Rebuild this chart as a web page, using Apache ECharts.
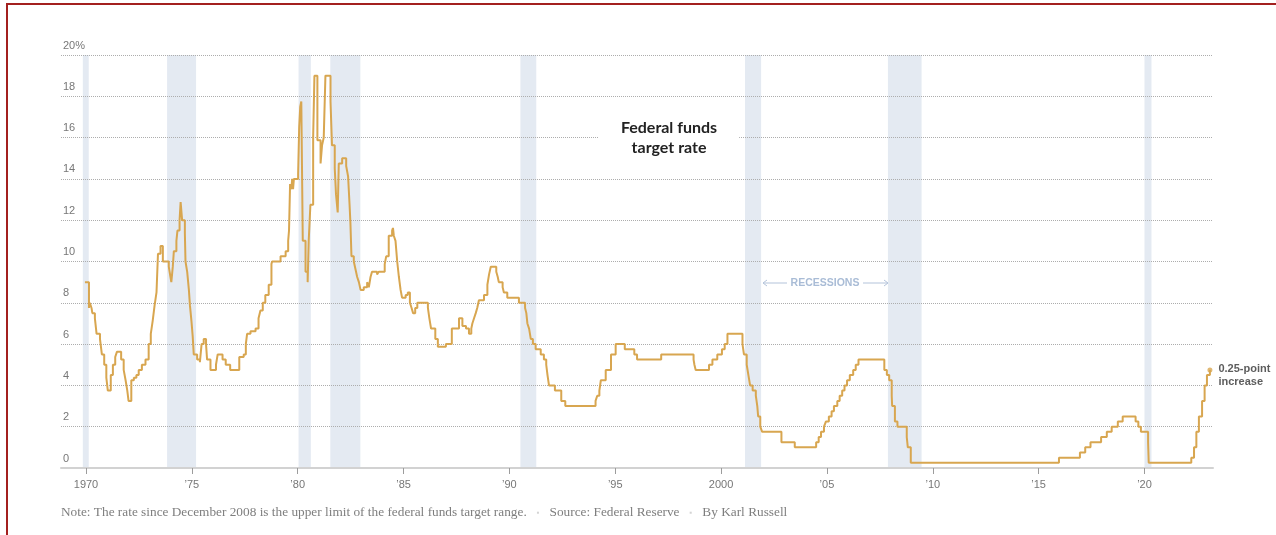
<!DOCTYPE html>
<html>
<head>
<meta charset="utf-8">
<script src="https://cdn.jsdelivr.net/npm/echarts@6/dist/echarts.min.js"></script>
<style>
  html, body { margin: 0; padding: 0; background: #fff; width: 1276px; height: 535px; overflow: hidden; }
  #chart { position: absolute; left: 0; top: 0; width: 1276px; height: 535px; }
  #frame { position: absolute; left: 6px; top: 3px; width: 1300px; height: 560px; border: 2px solid #a3201f; box-sizing: border-box; pointer-events: none; }
</style>
</head>
<body>
<div id="chart"></div>
<div id="frame"></div>
<script>
// Federal funds target rate: each entry is the date (decimal year) of a change and the new rate (%)
const rateDates = [
  1969.95, 1970.14, 1970.18, 1970.26, 1970.30, 1970.42, 1970.50, 1970.66, 1970.75, 1970.86,
  1970.96, 1971.03, 1971.17, 1971.27, 1971.38, 1971.46, 1971.66, 1971.78, 1971.87, 1971.95,
  1972.01, 1972.14, 1972.26, 1972.38, 1972.49, 1972.64, 1972.81, 1972.96, 1973.06, 1973.15,
  1973.24, 1973.33, 1973.40, 1973.52, 1973.63, 1973.91, 1973.99, 1974.03, 1974.10, 1974.15,
  1974.27, 1974.32, 1974.42, 1974.47, 1974.54, 1974.67, 1974.70, 1974.78, 1974.86, 1974.91,
  1974.98, 1975.04, 1975.09, 1975.25, 1975.38, 1975.46, 1975.56, 1975.67, 1975.72, 1975.88,
  1976.14, 1976.22, 1976.45, 1976.60, 1976.81, 1977.24, 1977.45, 1977.55, 1977.61, 1977.77,
  1978.01, 1978.15, 1978.24, 1978.35, 1978.47, 1978.63, 1978.76, 1978.79, 1979.19, 1979.43,
  1979.55, 1979.59, 1979.64, 1979.70, 1979.74, 1979.78, 1979.82, 1980.02, 1980.07, 1980.12,
  1980.17, 1980.24, 1980.37, 1980.47, 1980.52, 1980.60, 1980.73, 1980.79, 1980.93, 1981.08,
  1981.15, 1981.23, 1981.31, 1981.55, 1981.62, 1981.75, 1981.81, 1981.89, 1981.94, 1982.10,
  1982.29, 1982.38, 1982.45, 1982.49, 1982.54, 1982.65, 1982.73, 1982.81, 1982.89, 1982.97,
  1983.12, 1983.28, 1983.36, 1983.44, 1983.51, 1983.75, 1983.83, 1984.11, 1984.18, 1984.30,
  1984.46, 1984.50, 1984.54, 1984.62, 1984.70, 1984.78, 1984.86, 1984.93, 1985.10, 1985.20,
  1985.30, 1985.38, 1985.45, 1985.55, 1985.65, 1986.15, 1986.22, 1986.30, 1986.50, 1986.62,
  1987.00, 1987.28, 1987.62, 1987.78, 1987.95, 1988.09, 1988.20, 1988.25, 1988.33, 1988.41,
  1988.48, 1988.56, 1988.80, 1988.96, 1989.04, 1989.12, 1989.38, 1989.45, 1989.50, 1989.68,
  1989.74, 1989.90, 1990.45, 1990.74, 1990.80, 1990.85, 1990.93, 1991.01, 1991.11, 1991.24,
  1991.48, 1991.63, 1991.74, 1991.80, 1991.87, 1992.15, 1992.45, 1992.64, 1994.07, 1994.15,
  1994.25, 1994.32, 1994.55, 1994.80, 1995.02, 1995.45, 1995.90, 1996.03, 1997.17, 1998.70,
  1998.74, 1998.80, 1999.43, 1999.59, 1999.82, 2000.04, 2000.17, 2000.30, 2001.01, 2001.08,
  2001.21, 2001.29, 2001.37, 2001.49, 2001.64, 2001.71, 2001.75, 2001.85, 2001.94, 2002.85,
  2003.48, 2004.49, 2004.61, 2004.72, 2004.86, 2004.95, 2005.09, 2005.22, 2005.33, 2005.49,
  2005.60, 2005.72, 2005.83, 2005.95, 2006.08, 2006.24, 2006.36, 2006.49, 2007.71, 2007.83,
  2007.94, 2008.06, 2008.08, 2008.21, 2008.33, 2008.77, 2008.82, 2008.96, 2015.96, 2016.95,
  2017.20, 2017.45, 2017.95, 2018.22, 2018.45, 2018.74, 2018.97, 2019.58, 2019.71, 2019.83,
  2020.17, 2020.20, 2022.21, 2022.34, 2022.45, 2022.57, 2022.72, 2022.84, 2022.95, 2023.09
];
const rateValues = [
  9.0, 7.75, 8.0, 7.75, 7.5, 7.25, 6.5, 6.25, 5.5, 5.0,
  4.375, 3.75, 4.5, 5.0, 5.375, 5.625, 5.25, 4.75, 4.25, 3.75,
  3.25, 4.25, 4.375, 4.5, 4.75, 5.0, 5.25, 6.0, 6.5, 7.125,
  7.875, 8.5, 10.375, 10.75, 10.0, 9.75, 9.25, 9.0, 9.75, 10.5,
  11.0, 11.5, 12.0, 12.875, 12.0, 11.375, 10.0, 9.5, 8.625, 7.875,
  7.125, 6.375, 5.5, 5.25, 5.125, 6.0, 6.25, 6.0, 5.25, 4.75,
  5.0, 5.5, 5.25, 5.0, 4.75, 5.375, 5.5, 6.0, 6.5, 6.625,
  6.75, 7.25, 7.625, 8.0, 8.375, 8.875, 9.875, 10.0, 10.25, 10.5,
  11.0, 11.5, 13.75, 13.5, 14.0, 13.5, 14.0, 14.25, 16.5, 17.5,
  17.75, 11.0, 9.5, 9.0, 11.0, 12.75, 16.0, 19.0, 15.875, 14.75,
  15.625, 16.0, 19.0, 17.75, 15.625, 14.5, 13.25, 12.375, 14.75, 15.0,
  14.625, 14.125, 12.75, 11.875, 10.25, 10.0, 9.625, 9.25, 9.0, 8.625,
  8.75, 9.0, 8.75, 9.25, 9.5, 9.375, 9.5, 9.875, 10.25, 11.25,
  11.5, 11.625, 11.25, 11.0, 10.0, 9.25, 8.625, 8.25, 8.375, 8.5,
  8.0, 7.75, 7.5, 7.75, 8.0, 7.75, 7.25, 6.75, 6.25, 5.875,
  6.0, 6.75, 7.25, 6.875, 6.75, 6.5, 6.75, 7.0, 7.25, 7.5,
  7.75, 8.125, 8.375, 8.875, 9.375, 9.75, 9.5, 9.25, 9.0, 8.75,
  8.5, 8.25, 8.0, 7.75, 7.5, 7.0, 6.75, 6.25, 6.0, 5.75,
  5.5, 5.25, 5.0, 4.5, 4.0, 3.75, 3.25, 3.0, 3.25, 3.5,
  3.75, 4.25, 4.75, 5.5, 6.0, 5.75, 5.5, 5.25, 5.5, 5.25,
  5.0, 4.75, 5.0, 5.25, 5.5, 5.75, 6.0, 6.5, 6.0, 5.5,
  5.0, 4.5, 4.0, 3.75, 3.5, 3.0, 2.5, 2.0, 1.75, 1.25,
  1.0, 1.25, 1.5, 1.75, 2.0, 2.25, 2.5, 2.75, 3.0, 3.25,
  3.5, 3.75, 4.0, 4.25, 4.5, 4.75, 5.0, 5.25, 4.75, 4.5,
  4.25, 3.5, 3.0, 2.25, 2.0, 1.5, 1.0, 0.25, 0.5, 0.75,
  1.0, 1.25, 1.5, 1.75, 2.0, 2.25, 2.5, 2.25, 2.0, 1.75,
  1.25, 0.25, 0.5, 1.0, 1.75, 2.5, 3.25, 4.0, 4.5, 4.75
];

// Recessions (decimal years)
const recessionStarts = [1969.85, 1973.83, 1980.04, 1981.54, 1990.52, 2001.13, 2007.88, 2020.00];
const recessionEnds   = [1970.13, 1975.20, 1980.62, 1982.96, 1991.27, 2001.89, 2009.47, 2020.33];

// Axis ticks
const tickYears  = [1970, 1975, 1980, 1985, 1990, 1995, 2000, 2005, 2010, 2015, 2020];
const tickLabels = ['1970', '\u201975', '\u201980', '\u201985', '\u201990', '\u201995', '2000', '\u201905', '\u201910', '\u201915', '\u201920'];

const GOLD = '#d8a650';
const BAND = '#e4eaf2';
const SANS = '"Liberation Sans", Arial, sans-serif';

const chart = echarts.init(document.getElementById('chart'), null, { renderer: 'canvas' });

const lineData = rateDates.map((d, i) => [d, rateValues[i]]);
const lastPoint = lineData[lineData.length - 1];
const bandData = recessionStarts.map((s, i) => [s, recessionEnds[i], 0]);

const option = {
  animation: false,
  backgroundColor: 'transparent',
  grid: { left: 61, right: 63, top: 55, bottom: 67, containLabel: false },
  xAxis: {
    type: 'value',
    min: 1968.819,
    max: 2023.236,
    z: 2,
    axisLine: { show: true, onZero: true, lineStyle: { color: '#d2d2d2', width: 2 } },
    axisTick: { show: true, customValues: tickYears, length: 6, lineStyle: { color: '#9c9c9c', width: 1 } },
    axisLabel: {
      customValues: tickYears,
      formatter: v => tickLabels[tickYears.indexOf(Math.round(v))],
      margin: 11, color: '#777', fontFamily: SANS, fontSize: 11
    },
    splitLine: { show: false }
  },
  yAxis: {
    type: 'value',
    min: 0, max: 20, interval: 2,
    z: 2,
    axisLine: { show: false },
    axisTick: { show: false },
    axisLabel: {
      inside: true, margin: 2, verticalAlign: 'bottom', padding: [0, 0, 4, 0],
      formatter: v => (v === 20 ? '20%' : String(v)),
      color: '#777', fontFamily: SANS, fontSize: 11
    },
    splitLine: { show: true, showMinLine: false, lineStyle: { type: [1, 1], color: '#adadad', width: 1 } }
  },
  series: [
    {
      name: 'Recessions',
      type: 'custom',
      z: 1,
      silent: true,
      encode: { x: [0, 1], y: 2 },
      data: bandData,
      renderItem: (params, api) => {
        const p0 = api.coord([api.value(0), 20]);
        const p1 = api.coord([api.value(1), 0]);
        return {
          type: 'rect',
          shape: { x: p0[0], y: p0[1], width: p1[0] - p0[0], height: p1[1] - p0[1] },
          style: { fill: BAND }
        };
      }
    },
    {
      name: 'Federal funds target rate',
      type: 'line',
      step: 'end',
      z: 3,
      data: lineData,
      symbol: 'none',
      lineStyle: { color: GOLD, width: 2 }
    },
    {
      name: 'Latest',
      type: 'scatter',
      z: 4,
      data: [lastPoint],
      symbol: 'circle',
      symbolSize: 5,
      itemStyle: { color: GOLD },
      label: {
        show: true, position: 'right', distance: 6, offset: [0, 6],
        formatter: '0.25-point\nincrease',
        color: '#333', fontFamily: SANS, fontWeight: 'bold', fontSize: 11, lineHeight: 13, align: 'left'
      }
    }
  ],
  graphic: [
    {
      type: 'text', z: 10, silent: true,
      x: 669, y: 138,
      style: {
        text: 'Federal funds\ntarget rate',
        align: 'center', verticalAlign: 'middle',
        font: 'bold 16px Lato, "Liberation Sans", sans-serif',
        lineHeight: 20, fill: '#222',
        backgroundColor: '#fff', padding: [4, 22]
      }
    },
    {
      type: 'text', z: 10, silent: true,
      x: 825, y: 283,
      style: {
        text: 'RECESSIONS', align: 'center', verticalAlign: 'middle',
        font: 'bold 10.5px "Liberation Sans", Arial, sans-serif', fill: '#a9bcd6'
      }
    },
    { type: 'polyline', z: 10, silent: true, shape: { points: [[767, 280], [763, 283], [767, 286]] }, style: { stroke: '#b3c3da', lineWidth: 1, fill: null } },
    { type: 'line', z: 10, silent: true, shape: { x1: 763, y1: 283, x2: 787, y2: 283 }, style: { stroke: '#b3c3da', lineWidth: 1 } },
    { type: 'line', z: 10, silent: true, shape: { x1: 863, y1: 283, x2: 888, y2: 283 }, style: { stroke: '#b3c3da', lineWidth: 1 } },
    { type: 'polyline', z: 10, silent: true, shape: { points: [[884, 280], [888, 283], [884, 286]] }, style: { stroke: '#b3c3da', lineWidth: 1, fill: null } },
    {
      type: 'text', z: 10, silent: true,
      x: 61, y: 513,
      style: {
        text: '{n|Note: The rate since December 2008 is the upper limit of the federal funds target range.}{d|\u25aa}{n|Source: Federal Reserve}{d|\u25aa}{n|By Karl Russell}',
        verticalAlign: 'middle',
        rich: {
          n: { fontFamily: '"Liberation Serif", "Times New Roman", serif', fontSize: 13.3, fill: '#7e7e7e' },
          d: { fontFamily: SANS, fontSize: 8, fill: '#d4d4d4', padding: [0, 10, 0, 10] }
        }
      }
    }
  ]
};

chart.setOption(option);
</script>
</body>
</html>
